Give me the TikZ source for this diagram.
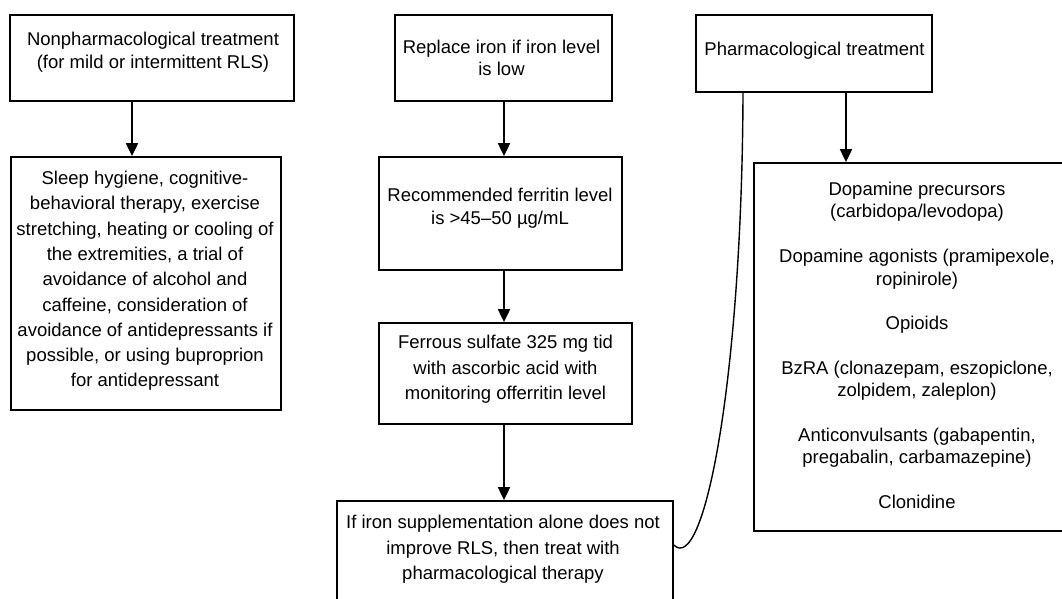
\documentclass[tikz,border=0pt]{standalone}
\usepackage{fontspec}
\setmainfont{Liberation Sans}
\usetikzlibrary{arrows.meta}

\tikzset{
  box/.style={draw, line width=1.8pt, inner sep=0pt},
  txt/.style={align=center, inner sep=0pt, font=\fontsize{18.5}{23}\selectfont},
  arr/.style={line width=2pt, -{Triangle[length=13pt,width=12pt]}},
  link/.style={line width=1.4pt}
}

\begin{document}
\begin{tikzpicture}[x=1pt,y=-1pt]
    \useasboundingbox (0,0) rectangle (1062,599);

    % Draw boxes
    \node[box, minimum width=284, minimum height=86] (nonph) at (152,58) {};
    \node[box, minimum width=270, minimum height=253] (sleep) at (146,283.5) {};
    \node[box, minimum width=217, minimum height=86] (iron) at (503.5,58) {};
    \node[box, minimum width=243, minimum height=113] (ferritin) at (500.5,213.5) {};
    \node[box, minimum width=253, minimum height=101] (ferrous) at (505.5,373.5) {};
    \node[box, minimum width=336, minimum height=104] (ifiron) at (505,553) {};
    \node[box, minimum width=236, minimum height=77] (pharm) at (814,53.5) {};
    \node[box, minimum width=314, minimum height=368] (drugs) at (911,347) {};

    % Labels
    \node[txt] (nonph-t) at (153,52.5) {Nonpharmacological treatment\\(for mild or intermittent RLS)};
    \node[txt, font=\fontsize{18.5}{25.3}\selectfont] (sleep-t) at (145,281) {Sleep hygiene, cognitive-\\behavioral therapy, exercise\\stretching, heating or cooling of\\the extremities, a trial of\\avoidance of alcohol and\\caffeine, consideration of\\avoidance of antidepressants if\\possible, or using buproprion\\for antidepressant};
    \node[txt, font=\fontsize{18.5}{22}\selectfont] (iron-t) at (501.5,58) {Replace iron if iron level\\is low};
    \node[txt] (ferritin-t) at (500,208.5) {Recommended ferritin level\\is >45–50 µg/mL};
    \node[txt, font=\fontsize{18.5}{25.5}\selectfont] (ferrous-t) at (505.5,369.5) {Ferrous sulfate 325 mg tid\\with ascorbic acid with\\monitoring offerritin level};
    \node[txt, font=\fontsize{18.5}{25.5}\selectfont] (ifiron-t) at (503,549.5) {If iron supplementation alone does not\\improve RLS, then treat with\\pharmacological therapy};
    \node[txt] (pharm-t) at (814.5,51) {Pharmacological treatment};
    \node[txt, font=\fontsize{18.5}{22.36}\selectfont] (drugs-t) at (917,345.5) {Dopamine precursors\\(carbidopa/levodopa)\\[22.36pt]Dopamine agonists (pramipexole,\\ropinirole)\\[22.36pt]Opioids\\[22.36pt]BzRA (clonazepam, eszopiclone,\\zolpidem, zaleplon)\\[22.36pt]Anticonvulsants (gabapentin,\\pregabalin, carbamazepine)\\[22.36pt]Clonidine};

    % Arrows
    \draw[arr] ([xshift=-20pt]nonph.south) -- ([xshift=-14pt]sleep.north);
    \draw[arr] ([xshift=0.5pt]iron.south) -- ([xshift=3.5pt]ferritin.north);
    \draw[arr] ([xshift=3.5pt]ferritin.south) -- ([xshift=-1.5pt]ferrous.north);
    \draw[arr] ([xshift=-1.5pt]ferrous.south) -- ([xshift=-1pt]ifiron.north);
    \draw[arr] ([xshift=32pt]pharm.south) -- ([xshift=-65pt]drugs.north);

    % Curved link back to pharmacological treatment
    \draw[link] ([yshift=8pt]ifiron.east) .. controls +(30,30) and +(-1,288) .. ([xshift=-71pt]pharm.south);
\end{tikzpicture}
\end{document}
